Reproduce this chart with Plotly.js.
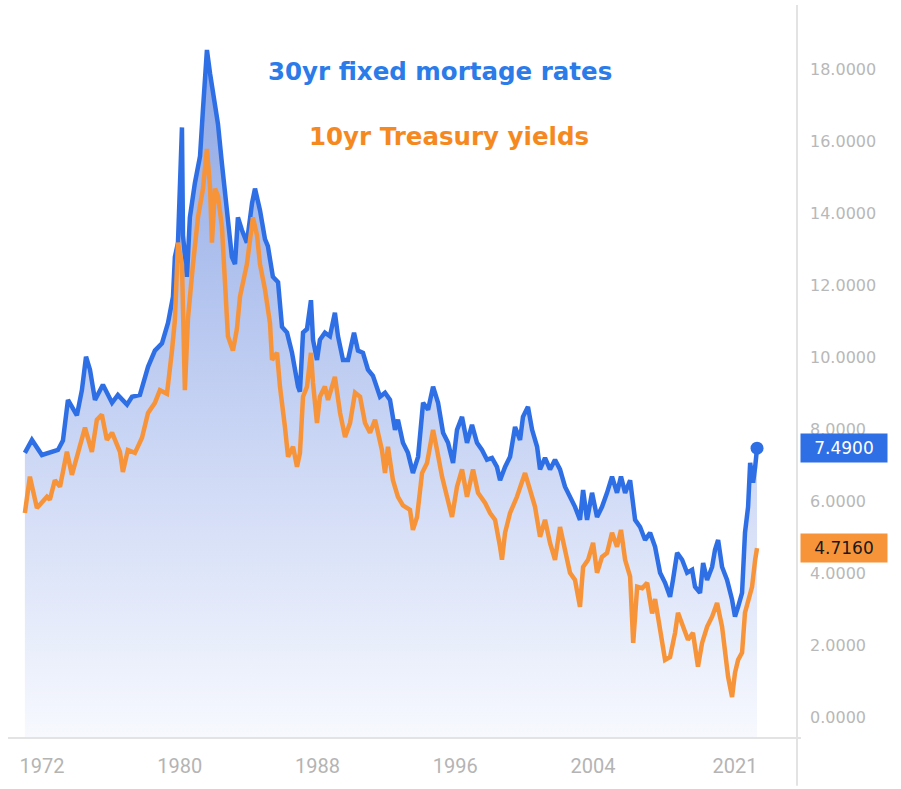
<!DOCTYPE html>
<html>
<head>
<meta charset="utf-8">
<script src="https://cdn.plot.ly/plotly-3.0.1.min.js"></script>
<style>html,body{margin:0;padding:0;background:#fff;}#chart{width:901px;height:789px;}</style>
</head>
<body>
<div id="chart"></div>
<script>
// x positions are in chart time units (the axis labels are placed as in the original)
const mortX = [1971.01,1971.42,1972.0,1972.93,1973.22,1973.51,1974.03,1974.32,1974.56,1974.79,1975.08,1975.54,1976.07,1976.41,1976.94,1977.23,1977.69,1978.16,1978.56,1978.97,1979.32,1979.61,1979.72,1979.90,1980.13,1980.19,1980.42,1980.59,1980.88,1981.18,1981.35,1981.58,1981.76,1981.93,1982.22,1982.45,1982.74,1983.03,1983.21,1983.38,1983.61,1983.90,1984.20,1984.37,1984.66,1984.95,1985.12,1985.41,1985.71,1985.94,1986.23,1986.52,1986.87,1986.98,1987.16,1987.39,1987.62,1987.74,1987.97,1988.14,1988.43,1988.72,1989.01,1989.19,1989.48,1989.77,1990.12,1990.35,1990.64,1990.93,1991.22,1991.63,1991.92,1992.21,1992.50,1992.67,1992.96,1993.25,1993.54,1993.84,1994.13,1994.42,1994.71,1995.00,1995.29,1995.58,1995.87,1996.10,1996.39,1996.68,1996.97,1997.26,1997.55,1997.84,1998.13,1998.42,1998.60,1998.89,1999.18,1999.47,1999.76,1999.93,2000.22,2000.46,2000.75,2000.92,2001.21,2001.50,2001.79,2002.08,2002.37,2002.66,2002.95,2003.24,2003.42,2003.65,2003.94,2004.23,2004.52,2004.81,2005.10,2005.39,2005.62,2005.86,2006.15,2006.44,2006.73,2007.02,2007.31,2007.60,2007.89,2008.18,2008.47,2008.64,2008.88,2009.17,2009.46,2009.75,2009.92,2010.21,2010.39,2010.62,2010.91,2011.08,2011.26,2011.49,2011.78,2012.07,2012.24,2012.42,2012.65,2012.82,2013.00,2013.12,2013.29,2013.41,2013.52];
const mortRate = [7.36,7.72,7.30,7.44,7.70,8.83,8.40,9.10,10.03,9.67,8.83,9.25,8.75,8.97,8.70,8.92,8.97,9.75,10.20,10.40,10.97,11.70,12.80,13.20,16.40,13.40,12.25,13.90,14.85,15.60,16.90,18.55,17.90,17.40,16.50,15.40,14.10,12.80,12.60,13.90,13.55,13.20,14.30,14.70,14.10,13.30,13.10,12.25,12.10,10.86,10.70,10.14,9.20,9.06,10.70,10.80,11.60,10.50,9.94,10.50,10.70,10.60,11.25,10.60,9.94,9.94,10.70,10.20,10.14,9.67,9.50,8.92,9.03,8.83,8.00,8.28,7.64,7.36,6.80,7.25,8.75,8.56,9.20,8.75,7.92,7.64,7.08,8.00,8.36,7.64,8.14,7.64,7.44,7.17,7.22,6.97,6.60,6.97,7.25,8.08,7.72,8.36,8.64,8.00,7.53,6.90,7.22,6.90,7.17,6.90,6.42,6.14,5.86,5.50,6.33,5.50,6.25,5.58,5.86,6.25,6.70,6.25,6.70,6.25,6.60,5.50,5.30,4.94,5.14,4.75,4.03,3.75,3.36,3.83,4.58,4.39,4.03,4.11,3.64,3.47,4.30,3.83,4.19,4.67,4.94,4.19,3.83,3.28,2.81,3.08,3.47,5.14,5.86,7.08,6.53,6.97,7.49];

const tsyX = [1971.01,1971.30,1971.71,1972.29,1972.46,1972.75,1973.05,1973.45,1973.74,1974.03,1974.50,1974.90,1975.19,1975.48,1975.77,1976.07,1976.36,1976.53,1976.70,1976.99,1977.40,1977.81,1978.16,1978.56,1978.85,1979.26,1979.55,1979.72,1979.90,1980.13,1980.30,1980.48,1980.77,1981.06,1981.35,1981.58,1981.76,1981.87,1982.05,1982.22,1982.45,1982.63,1982.80,1983.09,1983.32,1983.50,1983.90,1984.25,1984.49,1984.66,1984.95,1985.24,1985.36,1985.65,1985.82,1986.11,1986.29,1986.58,1986.81,1986.98,1987.16,1987.39,1987.62,1987.74,1987.97,1988.14,1988.43,1988.61,1989.01,1989.31,1989.60,1989.89,1990.18,1990.47,1990.76,1991.05,1991.34,1991.74,1991.92,1992.09,1992.38,1992.67,1992.96,1993.37,1993.54,1993.78,1994.07,1994.36,1994.71,1994.94,1995.23,1995.52,1995.81,1996.10,1996.39,1996.68,1997.03,1997.32,1997.73,1998.02,1998.31,1998.60,1998.71,1998.89,1999.18,1999.58,1999.87,2000.05,2000.34,2000.63,2000.92,2001.21,2001.50,2001.79,2002.08,2002.37,2002.66,2002.95,2003.24,2003.42,2003.71,2004.00,2004.23,2004.52,2004.81,2005.10,2005.39,2005.62,2005.86,2006.15,2006.33,2006.56,2006.85,2007.14,2007.43,2007.60,2007.89,2008.18,2008.47,2008.76,2008.93,2009.22,2009.51,2009.80,2010.09,2010.33,2010.62,2010.91,2011.20,2011.49,2011.66,2011.84,2012.07,2012.24,2012.42,2012.65,2012.82,2013.00,2013.23,2013.41,2013.52];
const tsyYield = [5.69,6.70,5.83,6.14,6.06,6.60,6.42,7.39,6.75,7.25,8.06,7.39,8.28,8.42,7.72,7.92,7.53,7.39,6.83,7.44,7.36,7.78,8.47,8.75,9.10,9.00,10.20,11.05,13.20,12.60,9.10,11.10,12.60,13.90,14.70,15.80,14.75,13.20,14.70,14.50,13.65,11.90,10.60,10.20,10.80,11.70,12.60,13.90,13.40,12.60,11.90,10.97,9.94,10.14,9.20,8.08,7.25,7.53,6.97,7.36,8.92,9.20,10.14,9.30,8.19,8.92,9.20,8.83,9.47,8.47,7.80,8.19,9.03,8.92,8.19,7.92,8.28,7.44,6.80,7.53,6.60,6.14,5.90,5.78,5.22,5.58,6.80,7.08,8.00,7.44,6.70,6.14,5.58,6.42,6.90,6.14,6.90,6.25,5.97,5.69,5.50,4.75,4.39,5.14,5.69,6.14,6.60,6.80,6.33,5.86,5.03,5.50,4.86,4.39,5.30,4.67,4.03,3.83,3.08,4.19,4.39,4.86,4.03,4.47,4.58,5.14,4.75,5.22,4.39,3.92,2.08,3.64,3.60,3.75,2.90,3.30,2.36,1.61,1.69,2.36,2.92,2.53,2.17,2.36,1.42,2.08,2.53,2.81,3.19,2.53,1.81,1.14,0.58,1.25,1.61,1.81,2.92,3.28,3.64,4.39,4.716];

const tickPos = [1972, 1980, 1988, 1996, 2004, 2012.24];
const tickLabels = ['1972', '1980', '1988', '1996', '2004', '2021'];
const yTicks = [0, 2, 4, 6, 8, 10, 12, 14, 16, 18];
const seriesNames = ['30yr fixed mortage rates', '10yr Treasury yields'];

const BLUE = '#2f6fe6';
const ORANGE = '#f7943a';
const yRange = [-0.56, 19.8];
const xRange = [1970.03, 2015.84];

const lastM = mortRate[mortRate.length - 1];
const lastT = tsyYield[tsyYield.length - 1];

const traces = [
  { x: mortX, y: mortX.map(() => yRange[0]), mode: 'lines', line: {width: 0, color: 'rgba(0,0,0,0)'}, hoverinfo: 'skip', showlegend: false },
  { x: mortX, y: mortRate, mode: 'lines', name: seriesNames[0], line: {color: BLUE, width: 4.5},
    fill: 'tonexty',
    fillgradient: {type: 'vertical', start: yRange[0], stop: 18.6,
      colorscale: [[0, 'rgba(247,249,254,1)'], [0.45, 'rgba(200,212,244,1)'], [1, 'rgba(140,166,228,1)']]},
    showlegend: false },
  { x: tsyX, y: tsyYield, mode: 'lines', name: seriesNames[1], line: {color: ORANGE, width: 4.5}, showlegend: false },
  { x: [mortX[mortX.length - 1]], y: [lastM], mode: 'markers', marker: {color: BLUE, size: 13}, showlegend: false, hoverinfo: 'skip' }
];

const layout = {
  width: 901, height: 789,
  margin: {l: 8, r: 104, t: 5, b: 51},
  paper_bgcolor: '#ffffff', plot_bgcolor: '#ffffff',
  showlegend: false,
  xaxis: {range: xRange, showgrid: false, zeroline: false, showline: false,
    tickmode: 'array', tickvals: tickPos, ticktext: tickLabels, ticks: '',
    ticklabelstandoff: 14,
    tickfont: {family: 'Liberation Sans Narrow, Roboto, sans-serif', size: 20, color: '#b4b4b4'}},
  yaxis: {range: yRange, side: 'right', showgrid: false, zeroline: false, showline: false,
    tickmode: 'array', tickvals: yTicks, tickformat: '.4f', ticks: '',
    ticklabelstandoff: 12,
    tickfont: {family: 'DejaVu Sans, sans-serif', size: 16, color: '#b8b8b8'}},
  shapes: [
    {type: 'line', xref: 'paper', yref: 'paper', x0: 1, x1: 1, y0: -0.065, y1: 1.0, line: {color: '#e3e3e3', width: 2}},
    {type: 'line', xref: 'paper', yref: 'paper', x0: 0, x1: 1.005, y0: 0, y1: 0, line: {color: '#e3e3e3', width: 2}}
  ],
  annotations: [
    {xref: 'paper', yref: 'paper', x: 0.5475, y: 0.9086, xanchor: 'center', yanchor: 'middle', showarrow: false,
      text: '<b>' + seriesNames[0] + '</b>', font: {family: 'DejaVu Sans, sans-serif', size: 24.5, color: '#2b7be9'}},
    {xref: 'paper', yref: 'paper', x: 0.559, y: 0.820, xanchor: 'center', yanchor: 'middle', showarrow: false,
      text: '<b>' + seriesNames[1] + '</b>', font: {family: 'DejaVu Sans, sans-serif', size: 24.5, color: '#f5891f'}},
    {xref: 'paper', yref: 'y', x: 1, y: lastM, xanchor: 'left', yanchor: 'middle', xshift: 3, showarrow: false,
      text: lastM.toFixed(4), bgcolor: BLUE, width: 80, height: 22, borderpad: 3,
      font: {family: 'DejaVu Sans, sans-serif', size: 17, color: '#ffffff'}},
    {xref: 'paper', yref: 'y', x: 1, y: lastT, xanchor: 'left', yanchor: 'middle', xshift: 3, showarrow: false,
      text: lastT.toFixed(4), bgcolor: ORANGE, width: 80, height: 22, borderpad: 3,
      font: {family: 'DejaVu Sans, sans-serif', size: 17, color: '#1a1a1a'}}
  ]
};

Plotly.newPlot('chart', traces, layout, {displayModeBar: false, staticPlot: true});
</script>
</body>
</html>
